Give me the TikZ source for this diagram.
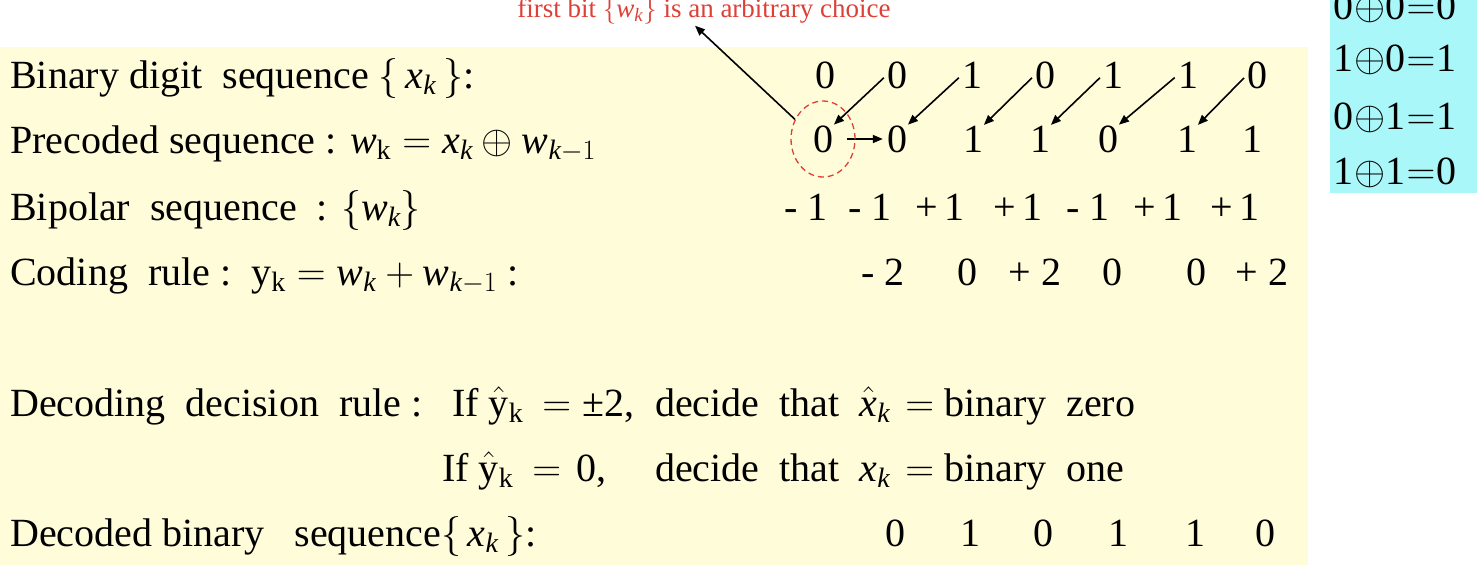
\RequirePackage{fix-cm}
\documentclass[tikz,border=0pt]{standalone}
\usepackage{fontspec}
\setmainfont{Liberation Serif}
\usetikzlibrary{arrows.meta}
\usetikzlibrary{shapes.geometric}

\definecolor{paper}{RGB}{255,252,217}
\definecolor{xortable}{RGB}{170,247,250}
\definecolor{notered}{RGB}{221,64,54}

\newcommand{\rowfont}{\fontsize{40}{48}\selectfont}
\newcommand{\notefont}{\fontsize{27}{32}\selectfont}
\newcommand{\xk}{\mathit{x}_{\mathit{k}}}
\newcommand{\wk}{\mathit{w}_{\mathit{k}}}
\newcommand{\wkm}{\mathit{w}_{\mathit{k}-1}}
\newcommand{\yhk}{\hat{\mathrm{y}}_{\mathrm{k}}}

\tikzset{
  lbl/.style={anchor=base west, inner sep=0pt, font=\rowfont},
  bit/.style={inner sep=0pt, font=\rowfont},
  link/.style={-{Triangle[length=10pt,width=8pt]}, line width=1.6pt}
}

\begin{document}
\begin{tikzpicture}[x=1pt,y=-1pt]
    \useasboundingbox (0,0) rectangle (1482,584);
    \clip (0,0) rectangle (1482,584);
    % Backgrounds
    \fill[paper] (0,47) rectangle (1308,565);
    \fill[xortable] (1330,-10) rectangle (1477,193);
    % XOR table
    \foreach \a/\b/\c/\y in {0/0/0/8, 1/0/1/60, 0/1/1/118, 1/1/0/173}
        \node[bit] (t\y) at (1395,\y) {\a\kern0.5pt$\oplus$\kern0.5pt\b\kern1pt$=$\kern1pt\c};
    % Row labels
    \node[lbl] (lx) at (10,88) {Binary digit\ \ sequence $\bigl\{\,\xk\,\bigr\}$:};
    \node[lbl] (lw) at (10,153) {Precoded sequence : $\mathit{w}_{\mathrm{k}} = \xk \oplus \wkm$};
    \node[lbl] (lb) at (10,220) {Bipolar\ \ sequence\ \ : $\bigl\{\wk\bigr\}$};
    \node[lbl] (ly) at (10,285) {Coding\ \ rule :\ \ $\mathrm{y}_{\mathrm{k}} = \wk + \wkm$ :};
    \node[lbl] (ld) at (10,416) {Decoding\ \ decision\ \ rule :};
    \node[lbl] (if1) at (452,416) {If $\yhk\hspace{8pt} = \mbox{±2}$,};
    \node[lbl] (then1) at (655,416) {decide\ \ that\ \ $\hat{\mathit{x}}_{\mathit{k}}\hspace{4pt} =$ binary\ \ zero};
    \node[lbl] (if2) at (442,481) {If $\yhk\hspace{8pt} = \hspace{4pt}\mbox{0}$,};
    \node[lbl] (then2) at (655,481) {decide\ \ that\ \ $\xk\hspace{4pt} =$ binary\ \ one};
    \node[lbl] (lo) at (10,546) {Decoded binary\ \ \ sequence$\bigl\{\,\xk\,\bigr\}$:};
    % Sequences
    \foreach \v/\px [count=\i from 0] in {0/825, 0/897, 1/972, 0/1045, 1/1113, 1/1188, 0/1257}
        \node[bit] (x\i) at (\px,75) {\v};
    \foreach \v/\px [count=\i from 0] in {0/823, 0/897, 1/973, 1/1040, 0/1108, 1/1187, 1/1252}
        \node[bit] (w\i) at (\px,139) {\v};
    \foreach \v/\px [count=\i from 0] in {- 1/806, - 1/870, +\,1/940, +\,1/1018, - 1/1088, +\,1/1158, +\,1/1235}
        \node[bit] (b\i) at (\px,207) {\v};
    \foreach \v/\px [count=\i from 1] in {- 2/883, 0/967, + 2/1035, 0/1112, 0/1196, + 2/1262}
        \node[bit] (y\i) at (\px,272) {\v};
    \foreach \v/\px [count=\i from 1] in {0/895, 1/970, 0/1043, 1/1118, 1/1195, 0/1265}
        \node[bit] (o\i) at (\px,533) {\v};
    % Feedback arrows
    \foreach \i/\j in {1/0, 2/1, 3/2, 4/3, 5/4, 6/5}
        \draw[link, shorten <=4pt, shorten >=1pt] (x\i.west) -- (w\j.north east);
    \draw[link, shorten <=14pt, shorten >=4pt] (w0.east) -- (w1.west);
    % First bit
    \node[draw=notered, dashed, dash pattern=on 6pt off 4pt, line width=1.3pt,
          ellipse, minimum width=64pt, minimum height=76pt] (pick) at (w0) {};
    \node[font=\notefont, text=notered, inner sep=1pt] (note) at (704,11)
        {first bit $\{\wk\}$ is an arbitrary choice};
    \draw[link] (pick.145) -- ([xshift=-9pt]note.south);
\end{tikzpicture}
\end{document}
